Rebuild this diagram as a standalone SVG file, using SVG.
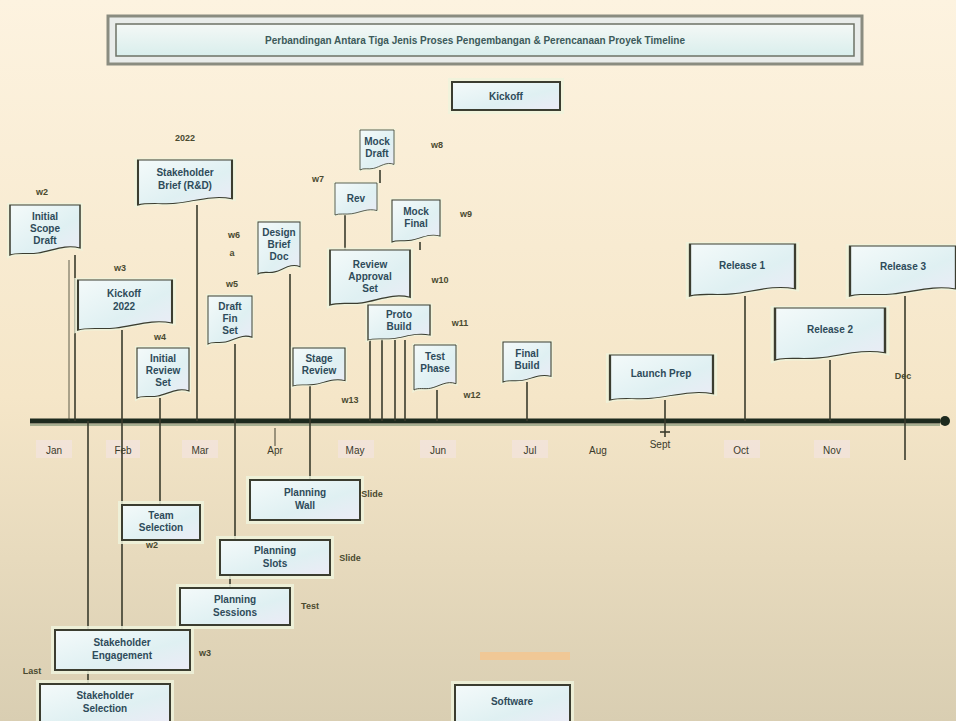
<svg xmlns="http://www.w3.org/2000/svg" xmlns:xlink="http://www.w3.org/1999/xlink" width="956" height="721" viewBox="0 0 956 721">
<defs>
<linearGradient id="bg" x1="0" y1="0" x2="0" y2="1">
<stop offset="0" stop-color="#fdf3e0"/>
<stop offset="0.55" stop-color="#f5e6c8"/>
<stop offset="1" stop-color="#d9ceb2"/>
</linearGradient>
<linearGradient id="nf" x1="0" y1="0" x2="1" y2="1">
<stop offset="0" stop-color="#f4fafa"/>
<stop offset="0.6" stop-color="#dff0f2"/>
<stop offset="1" stop-color="#ecebf6"/>
</linearGradient>
<linearGradient id="tf" x1="0" y1="0" x2="0" y2="1">
<stop offset="0" stop-color="#f4f8f6"/>
<stop offset="1" stop-color="#d9eeec"/>
</linearGradient>
<path id="doc" d="M0 0 H100 V86 C78 78 60 92 40 96 C25 99 10 94 0 100 Z"/>
</defs>
<style>
.halo{fill:none;stroke:#eef3dc;stroke-width:8;vector-effect:non-scaling-stroke;opacity:.85}
.box{fill:url(#nf);stroke:#3b3d30;stroke-width:2.2;vector-effect:non-scaling-stroke}
.rh{fill:none;stroke:#eef3dc;stroke-width:8;opacity:.85}
.rb{fill:url(#nf);stroke:#3b3d30;stroke-width:2}
.t{font-family:"Liberation Sans",Arial,sans-serif;font-size:10px;font-weight:bold;fill:#2e4b5a;text-anchor:middle}
.l{font-family:"Liberation Sans",Arial,sans-serif;font-size:9px;font-weight:bold;fill:#4a4a30;text-anchor:middle}
.m{font-family:"Liberation Sans",Arial,sans-serif;font-size:10px;fill:#3a3a2a;text-anchor:middle}
.mb{fill:#f3e3dc;opacity:.8}
.c{stroke:#3a3b2c;stroke-width:1.6;fill:none}
</style>
<rect width="956" height="721" fill="url(#bg)"/>

<g id="title">
<rect x="108" y="16" width="754" height="48" fill="#e9ecea" stroke="#8a8c80" stroke-width="3"/>
<rect x="116" y="24" width="738" height="32" fill="url(#tf)" stroke="#6d7266" stroke-width="1.5"/>
<text x="475" y="44" class="t" style="font-size:10px;fill:#3c5a5a">Perbandingan Antara Tiga Jenis Proses Pengembangan &amp; Perencanaan Proyek Timeline</text>
</g>

<g id="start">
<rect x="452" y="82" width="108" height="28" class="rh"/>
<rect x="452" y="82" width="108" height="28" class="rb"/>
<text x="506" y="100" class="t">Kickoff</text>
</g>

<g id="months">
<rect x="36" y="440" width="36" height="18" class="mb"/>
<rect x="106" y="440" width="34" height="18" class="mb"/>
<rect x="182" y="440" width="36" height="18" class="mb"/>
<rect x="338" y="440" width="36" height="18" class="mb"/>
<rect x="420" y="440" width="36" height="18" class="mb"/>
<rect x="512" y="440" width="36" height="18" class="mb"/>
<rect x="724" y="440" width="36" height="18" class="mb"/>
<rect x="814" y="440" width="36" height="18" class="mb"/>
<text x="54" y="454" class="m">Jan</text>
<text x="123" y="454" class="m">Feb</text>
<text x="200" y="454" class="m">Mar</text>
<text x="275" y="454" class="m">Apr</text>
<text x="355" y="454" class="m">May</text>
<text x="438" y="454" class="m">Jun</text>
<text x="530" y="454" class="m">Jul</text>
<text x="598" y="454" class="m">Aug</text>
<text x="660" y="448" class="m">Sept</text>
<text x="741" y="454" class="m">Oct</text>
<text x="832" y="454" class="m">Nov</text>
</g>

<g id="connectors">
<line x1="30" y1="421" x2="940" y2="421" stroke="#1d2a1e" stroke-width="5"/>
<line x1="30" y1="425" x2="940" y2="425" stroke="#5d7a5d" stroke-width="1.2"/>
<circle cx="945" cy="421" r="5" fill="#1d2a1e"/>
<line class="c" x1="75" y1="255" x2="75" y2="421"/>
<line class="c" x1="88" y1="421" x2="88" y2="684"/>
<line class="c" x1="197" y1="205" x2="197" y2="421"/>
<line class="c" x1="122" y1="330" x2="122" y2="630"/>
<line class="c" x1="160" y1="398" x2="160" y2="505"/>
<line class="c" x1="235" y1="344" x2="235" y2="540"/>
<line class="c" x1="230" y1="575" x2="230" y2="588"/>
<line class="c" x1="290" y1="274" x2="290" y2="421"/>
<line class="c" x1="345" y1="215" x2="345" y2="250"/>
<line class="c" x1="380" y1="170" x2="380" y2="183"/>
<line class="c" x1="420" y1="242" x2="420" y2="250"/>
<line class="c" x1="370" y1="305" x2="370" y2="421"/>
<line class="c" x1="382" y1="305" x2="382" y2="421"/>
<line class="c" x1="395" y1="340" x2="395" y2="421"/>
<line class="c" x1="405" y1="340" x2="405" y2="421"/>
<line class="c" x1="437" y1="390" x2="437" y2="421"/>
<line class="c" x1="310" y1="386" x2="310" y2="480"/>
<line class="c" x1="527" y1="382" x2="527" y2="421"/>
<line class="c" x1="665" y1="400" x2="665" y2="437"/>
<line class="c" x1="660" y1="432" x2="670" y2="432"/>
<line class="c" x1="275" y1="428" x2="275" y2="446" stroke-opacity=".6"/>
<line class="c" x1="745" y1="296" x2="745" y2="421"/>
<line class="c" x1="830" y1="360" x2="830" y2="421"/>
<line class="c" x1="905" y1="296" x2="905" y2="460"/>
<line class="c" x1="69" y1="260" x2="69" y2="421" stroke-opacity=".5"/>
</g>

<g id="n1"><use href="#doc" class="halo" transform="translate(10 205) scale(.7 .5)"/><use href="#doc" class="box" transform="translate(10 205) scale(.7 .5)"/>
<text x="45" y="220" class="t">Initial</text><text x="45" y="232" class="t">Scope</text><text x="45" y="244" class="t">Draft</text><text x="42" y="195" class="l">w2</text></g>

<g id="n2"><use href="#doc" class="halo" transform="translate(138 160) scale(.94 .45)"/><use href="#doc" class="box" transform="translate(138 160) scale(.94 .45)"/>
<text x="185" y="176" class="t">Stakeholder</text><text x="185" y="189" class="t">Brief (R&amp;D)</text><text x="185" y="141" class="l">2022</text></g>

<g id="n3"><use href="#doc" class="halo" transform="translate(78 280) scale(.94 .5)"/><use href="#doc" class="box" transform="translate(78 280) scale(.94 .5)"/>
<text x="124" y="297" class="t">Kickoff</text><text x="124" y="310" class="t">2022</text><text x="120" y="271" class="l">w3</text></g>

<g id="n4"><use href="#doc" class="halo" transform="translate(137 348) scale(.52 .5)"/><use href="#doc" class="box" transform="translate(137 348) scale(.52 .5)"/>
<text x="163" y="362" class="t">Initial</text><text x="163" y="374" class="t">Review</text><text x="163" y="386" class="t">Set</text><text x="160" y="340" class="l">w4</text></g>

<g id="n5"><use href="#doc" class="halo" transform="translate(208 296) scale(.44 .48)"/><use href="#doc" class="box" transform="translate(208 296) scale(.44 .48)"/>
<text x="230" y="310" class="t">Draft</text><text x="230" y="322" class="t">Fin</text><text x="230" y="334" class="t">Set</text><text x="232" y="287" class="l">w5</text></g>

<g id="n6"><use href="#doc" class="halo" transform="translate(258 222) scale(.42 .52)"/><use href="#doc" class="box" transform="translate(258 222) scale(.42 .52)"/>
<text x="279" y="236" class="t">Design</text><text x="279" y="248" class="t">Brief</text><text x="279" y="260" class="t">Doc</text><text x="234" y="238" class="l">w6</text><text x="232" y="256" class="l">a</text></g>

<g id="n7"><use href="#doc" class="halo" transform="translate(335 183) scale(.42 .32)"/><use href="#doc" class="box" transform="translate(335 183) scale(.42 .32)"/>
<text x="356" y="202" class="t">Rev</text><text x="318" y="182" class="l">w7</text></g>

<g id="n8"><use href="#doc" class="halo" transform="translate(360 130) scale(.34 .4)"/><use href="#doc" class="box" transform="translate(360 130) scale(.34 .4)"/>
<text x="377" y="145" class="t">Mock</text><text x="377" y="157" class="t">Draft</text><text x="437" y="148" class="l">w8</text></g>

<g id="n9"><use href="#doc" class="halo" transform="translate(392 200) scale(.48 .42)"/><use href="#doc" class="box" transform="translate(392 200) scale(.48 .42)"/>
<text x="416" y="215" class="t">Mock</text><text x="416" y="227" class="t">Final</text><text x="466" y="217" class="l">w9</text></g>

<g id="n10"><use href="#doc" class="halo" transform="translate(330 250) scale(.8 .55)"/><use href="#doc" class="box" transform="translate(330 250) scale(.8 .55)"/>
<text x="370" y="268" class="t">Review</text><text x="370" y="280" class="t">Approval</text><text x="370" y="292" class="t">Set</text><text x="440" y="283" class="l">w10</text></g>

<g id="n11"><use href="#doc" class="halo" transform="translate(368 305) scale(.62 .35)"/><use href="#doc" class="box" transform="translate(368 305) scale(.62 .35)"/>
<text x="399" y="318" class="t">Proto</text><text x="399" y="330" class="t">Build</text><text x="460" y="326" class="l">w11</text></g>

<g id="n12"><use href="#doc" class="halo" transform="translate(414 345) scale(.42 .45)"/><use href="#doc" class="box" transform="translate(414 345) scale(.42 .45)"/>
<text x="435" y="360" class="t">Test</text><text x="435" y="372" class="t">Phase</text><text x="472" y="398" class="l">w12</text></g>

<g id="n13"><use href="#doc" class="halo" transform="translate(293 348) scale(.52 .38)"/><use href="#doc" class="box" transform="translate(293 348) scale(.52 .38)"/>
<text x="319" y="362" class="t">Stage</text><text x="319" y="374" class="t">Review</text><text x="350" y="403" class="l">w13</text></g>

<g id="n14"><use href="#doc" class="halo" transform="translate(503 342) scale(.48 .4)"/><use href="#doc" class="box" transform="translate(503 342) scale(.48 .4)"/>
<text x="527" y="357" class="t">Final</text><text x="527" y="369" class="t">Build</text></g>

<g id="n15"><use href="#doc" class="halo" transform="translate(610 355) scale(1.03 .45)"/><use href="#doc" class="box" transform="translate(610 355) scale(1.03 .45)"/>
<text x="661" y="377" class="t">Launch Prep</text></g>

<g id="n16"><use href="#doc" class="halo" transform="translate(690 244) scale(1.05 .52)"/><use href="#doc" class="box" transform="translate(690 244) scale(1.05 .52)"/>
<text x="742" y="269" class="t">Release 1</text></g>

<g id="n17"><use href="#doc" class="halo" transform="translate(775 308) scale(1.1 .52)"/><use href="#doc" class="box" transform="translate(775 308) scale(1.1 .52)"/>
<text x="830" y="333" class="t">Release 2</text></g>

<g id="n18"><use href="#doc" class="halo" transform="translate(850 246) scale(1.06 .5)"/><use href="#doc" class="box" transform="translate(850 246) scale(1.06 .5)"/>
<text x="903" y="270" class="t">Release 3</text><text x="903" y="379" class="l">Dec</text></g>

<g id="b1"><rect x="250" y="480" width="110" height="40" class="rh"/><rect x="250" y="480" width="110" height="40" class="rb"/>
<text x="305" y="496" class="t">Planning</text><text x="305" y="509" class="t">Wall</text><text x="372" y="497" class="l">Slide</text></g>

<g id="b2"><rect x="122" y="505" width="78" height="35" class="rh"/><rect x="122" y="505" width="78" height="35" class="rb"/>
<text x="161" y="519" class="t">Team</text><text x="161" y="531" class="t">Selection</text><text x="152" y="548" class="l">w2</text></g>

<g id="b3"><rect x="220" y="540" width="110" height="35" class="rh"/><rect x="220" y="540" width="110" height="35" class="rb"/>
<text x="275" y="554" class="t">Planning</text><text x="275" y="567" class="t">Slots</text><text x="350" y="561" class="l">Slide</text></g>

<g id="b4"><rect x="180" y="588" width="110" height="37" class="rh"/><rect x="180" y="588" width="110" height="37" class="rb"/>
<text x="235" y="603" class="t">Planning</text><text x="235" y="616" class="t">Sessions</text><text x="310" y="609" class="l">Test</text></g>

<g id="b5"><rect x="55" y="630" width="135" height="40" class="rh"/><rect x="55" y="630" width="135" height="40" class="rb"/>
<text x="122" y="646" class="t">Stakeholder</text><text x="122" y="659" class="t">Engagement</text><text x="205" y="656" class="l">w3</text></g>

<g id="b6"><rect x="40" y="684" width="130" height="40" class="rh"/><rect x="40" y="684" width="130" height="40" class="rb"/>
<text x="105" y="699" class="t">Stakeholder</text><text x="105" y="712" class="t">Selection</text><text x="32" y="674" class="l">Last</text></g>

<g id="b7"><rect x="480" y="652" width="90" height="8" fill="#f0c896"/>
<rect x="455" y="685" width="115" height="40" class="rh"/><rect x="455" y="685" width="115" height="40" class="rb"/>
<text x="512" y="705" class="t">Software</text></g>
</svg>
